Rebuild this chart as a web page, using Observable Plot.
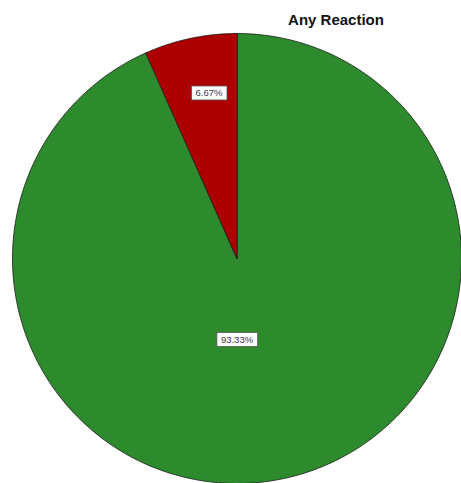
<!DOCTYPE html>
<html>
<head>
<meta charset="utf-8">
<script src="https://cdn.jsdelivr.net/npm/d3@7"></script>
<script src="https://cdn.jsdelivr.net/npm/@observablehq/plot@0.6"></script>
<style>
  html, body { margin: 0; padding: 0; background: #fff; }
  #chart { position: relative; width: 461px; height: 483px; }
</style>
</head>
<body>
<div id="chart"></div>
<script>
const title = "Any Reaction";
const categories = ["No", "Yes"];
const percents = [93.33, 6.67];
const labels = ["93.33%", "6.67%"];
const colors = ["#2d8a2d", "#ad0000"];

const pie = d3.pie().sort(null).value(d => d.value);
const slices = pie(categories.map((c, i) => ({category: c, value: percents[i], label: labels[i]})));

const pts = [];
for (const s of slices) {
  const n = Math.max(4, Math.ceil((s.endAngle - s.startAngle) / (Math.PI / 180)));
  pts.push({category: s.data.category, x: 0, y: 0});
  for (let k = 0; k <= n; k++) {
    const a = s.startAngle + (s.endAngle - s.startAngle) * k / n;
    pts.push({category: s.data.category, x: Math.sin(a), y: Math.cos(a)});
  }
}
const labelPts = slices.map(s => {
  const mid = (s.startAngle + s.endAngle) / 2;
  const small = s.data.value < 50;
  const r = small ? 0.75 : 0.37;
  const x = small ? r * Math.sin(mid) * 0.8 : 0;
  return {label: s.data.label, x, y: r * Math.cos(mid)};
});

const chart = Plot.plot({
  width: 461,
  height: 483,
  marginLeft: 12,
  marginRight: 0,
  marginTop: 33,
  marginBottom: 0,
  x: {domain: [-1, 1], axis: null},
  y: {domain: [-1, 1], axis: null},
  color: {domain: categories, range: colors},
  style: {fontFamily: "Liberation Sans, Arial, sans-serif", background: "white", overflow: "visible"},
  marks: [
    Plot.line(pts, {x: "x", y: "y", z: "category", fill: "category", stroke: "#1a1a1a", strokeWidth: 0.8, curve: "linear-closed"}),
    Plot.text(labelPts, {x: "x", y: "y", text: "label", fontSize: 9.5, fill: "#3a3450", className: "pct"})
  ]
});
document.getElementById("chart").appendChild(chart);

const svg = d3.select(chart);
const sr = chart.getBoundingClientRect();
const textGroup = chart.querySelector("g.pct");
const boxes = d3.select(chart).insert("g", () => textGroup);
d3.select(textGroup).selectAll("text").each(function() {
  const b = this.getBoundingClientRect();
  boxes.append("rect")
    .attr("x", b.left - sr.left - 4).attr("y", b.top - sr.top - 1.5)
    .attr("width", b.width + 8).attr("height", b.height + 3)
    .attr("fill", "white").attr("stroke", "#555").attr("stroke-width", 0.8);
});

svg.append("text")
  .attr("x", 336).attr("y", 25)
  .attr("text-anchor", "middle")
  .attr("font-family", "Liberation Sans, Arial, sans-serif")
  .attr("font-weight", "bold")
  .attr("font-size", 15)
  .attr("fill", "#111")
  .text(title);
</script>
</body>
</html>
